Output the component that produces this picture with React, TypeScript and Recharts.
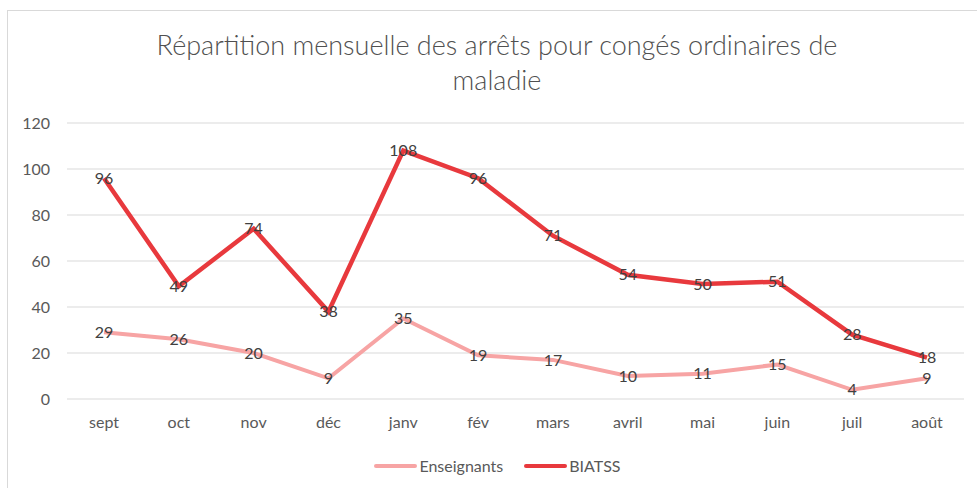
import { LineChart, Line, XAxis, YAxis, CartesianGrid, Legend, LabelList } from 'recharts'

const months = ['sept', 'oct', 'nov', 'déc', 'janv', 'fév', 'mars', 'avril', 'mai', 'juin', 'juil', 'août']
const enseignants = [29, 26, 20, 9, 35, 19, 17, 10, 11, 15, 4, 9]
const biatss = [96, 49, 74, 38, 108, 96, 71, 54, 50, 51, 28, 18]
const yTicks = [0, 20, 40, 60, 80, 100, 120]

const data = months.map((month, i) => ({
  month,
  Enseignants: enseignants[i],
  BIATSS: biatss[i],
}))

const font = 'Lato, "Open Sans", sans-serif'
const grey = '#595959'

const legendItems = [
  { name: 'Enseignants', color: '#F7A4A4' },
  { name: 'BIATSS', color: '#E8393D' },
]

function LegendContent() {
  return (
    <div
      style={{
        display: 'flex',
        justifyContent: 'center',
        gap: 20,
        paddingLeft: 23,
        fontFamily: font,
        fontSize: 16,
        color: grey,
      }}
    >
      {legendItems.map((item) => (
        <div key={item.name} style={{ display: 'flex', alignItems: 'center' }}>
          <svg width={46} height={10}>
            <line x1={3} y1={5} x2={42} y2={5} stroke={item.color} strokeWidth={4} strokeLinecap="round" />
          </svg>
          <span>{item.name}</span>
        </div>
      ))}
    </div>
  )
}

export default function App() {
  return (
    <div style={{ position: 'absolute', left: 0, top: 0, width: 977, height: 488, background: '#fff', overflow: 'hidden' }}>
      <div
        style={{
          position: 'absolute',
          left: 7,
          top: 10,
          width: 990,
          height: 500,
          border: '1px solid #d9d9d9',
        }}
      />
      <div
        style={{
          position: 'absolute',
          left: 7,
          top: 27,
          width: 980,
          textAlign: 'center',
          fontFamily: font,
          fontSize: 27,
          fontWeight: 300,
          lineHeight: '35px',
          color: '#505050',
        }}
      >
        Répartition mensuelle des arrêts pour congés ordinaires de
        <br />
        maladie
      </div>
      <div style={{ position: 'absolute', left: 0, top: 0 }}>
        <LineChart width={977} height={488} data={data} margin={{ top: 123, right: 13, bottom: 13, left: 7 }}>
          <CartesianGrid vertical={false} stroke="#d9d9d9" />
          <XAxis
            dataKey="month"
            axisLine={false}
            tickLine={false}
            padding={{ left: 37, right: 37 }}
            height={57}
            tick={{ fill: grey, fontSize: 16, fontFamily: font }}
            tickMargin={12}
          />
          <YAxis
            domain={[0, 120]}
            ticks={yTicks}
            width={60}
            axisLine={false}
            tickLine={false}
            tickMargin={11}
            tick={{ fill: grey, fontSize: 16, fontFamily: font }}
          />
          <Legend verticalAlign="bottom" content={<LegendContent />} />
          <Line
            type="linear"
            dataKey="Enseignants"
            stroke="#F7A4A4"
            strokeWidth={4}
            dot={false}
            isAnimationActive={false}
          >
            <LabelList dataKey="Enseignants" position="center" fill="#404040" fontSize={16} fontFamily={font} />
          </Line>
          <Line
            type="linear"
            dataKey="BIATSS"
            stroke="#E8393D"
            strokeWidth={4.5}
            dot={false}
            isAnimationActive={false}
          >
            <LabelList dataKey="BIATSS" position="center" fill="#404040" fontSize={16} fontFamily={font} />
          </Line>
        </LineChart>
      </div>
    </div>
  )
}
